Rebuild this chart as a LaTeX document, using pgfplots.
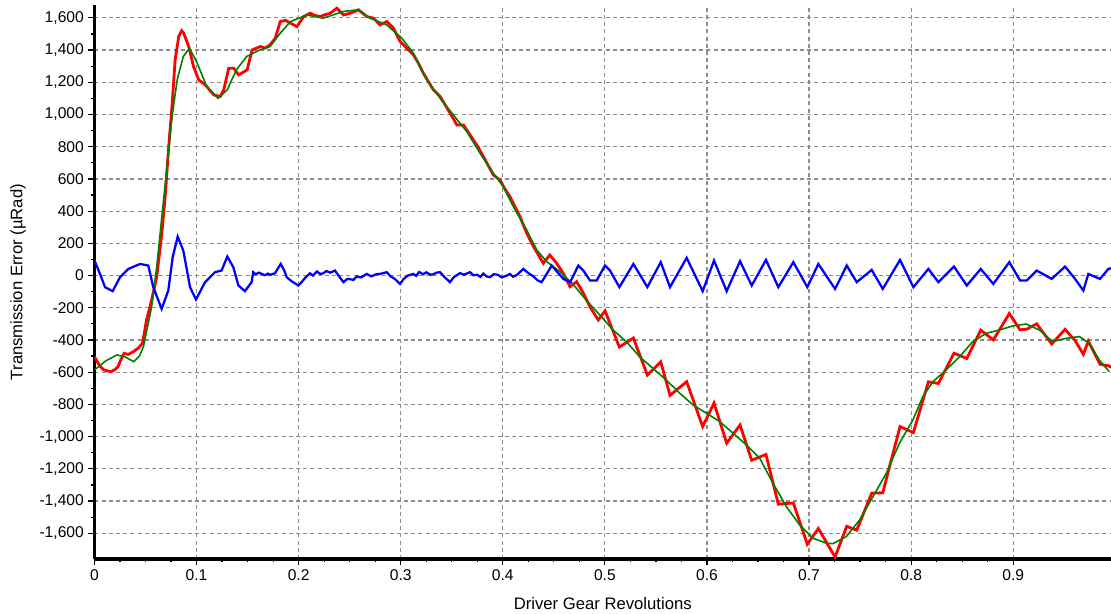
\documentclass[border=0pt]{standalone}
\usepackage{fontspec}
\setmainfont{Liberation Sans}
\usepackage{pgfplots}
\pgfplotsset{compat=1.18}
\definecolor{gridgray}{RGB}{140,140,140}
\definecolor{tered}{RGB}{255,0,0}
\definecolor{tegreen}{RGB}{0,128,0}
\definecolor{teblue}{RGB}{0,0,255}
\begin{document}
\begin{tikzpicture}
\begin{axis}[
  name=ax,
  scale only axis,
  width=762.4pt, height=415.5pt,
  xmin=0, xmax=0.9958,
  ymin=-1760, ymax=1680,
  axis lines=left,
  axis line style={-, line width=2.4pt, black},
  xtick={0,0.1,0.2,0.3,0.4,0.5,0.6,0.7,0.8,0.9},
  xticklabels={0,0.1,0.2,0.3,0.4,0.5,0.6,0.7,0.8,0.9},
  ytick={-1600,-1400,-1200,-1000,-800,-600,-400,-200,0,200,400,600,800,1000,1200,1400,1600},
  minor x tick num=3,
  minor y tick num=1,
  tick align=outside,
  major tick length=4.5pt,
  minor tick length=2.6pt,
  every tick/.style={black, line width=0.9pt},
  grid=major,
  major grid style={gridgray, line width=0.9pt, dash pattern=on 3pt off 2.4pt},
  /pgf/number format/assume math mode=true,
  /pgf/number format/1000 sep={,},
  tick label style={font=\fontsize{11.7}{14}\selectfont, black},
  label style={font=\fontsize{12.5}{15}\selectfont},
  xlabel={Driver Gear Revolutions},
  ylabel={Transmission Error (µRad)},
  xlabel style={at={(axis description cs:0.5,-0.0812)}, anchor=center},
  ylabel style={at={(axis description cs:-0.0753,0.5)}, anchor=center},
  clip=true,
]
% red: measured
\addplot[tered, line width=2.1pt] coordinates {
(0,-504) (0.005,-560) (0.009,-586) (0.013,-592) (0.016,-597) (0.02,-585) (0.023,-566) (0.026,-520) (0.029,-483) (0.033,-490) (0.038,-473) (0.043,-450) (0.047,-421)
(0.051,-276) (0.056,-152) (0.061,-7) (0.066,263) (0.0695,511) (0.0727,801) (0.0759,1049) (0.079,1339) (0.0825,1484) (0.0854,1520) (0.0874,1505)
(0.0923,1422) (0.097,1298) (0.1021,1215) (0.1086,1184) (0.1168,1122) (0.1233,1112) (0.1266,1153) (0.1315,1287) (0.1364,1287) (0.1413,1246)
(0.1495,1277) (0.1544,1401) (0.1626,1422) (0.167,1412) (0.172,1432) (0.177,1473) (0.182,1577) (0.187,1585) (0.192,1567) (0.1983,1546) (0.2048,1608) (0.2113,1629)
(0.216,1615) (0.221,1608) (0.226,1620) (0.231,1629) (0.2374,1660) (0.244,1618) (0.2505,1629) (0.2586,1650) (0.2668,1608) (0.2733,1598) (0.2798,1556) (0.2864,1577)
(0.2929,1536) (0.2994,1453) (0.306,1411) (0.3125,1370) (0.317,1322) (0.3222,1256) (0.327,1205) (0.332,1153) (0.3386,1112) (0.343,1065) (0.3484,1008) (0.355,935) (0.3614,935)
(0.3712,842) (0.376,795) (0.381,738) (0.386,680) (0.3907,625) (0.3973,593) (0.402,538) (0.407,490) (0.4168,366) (0.4234,263) (0.43,180) (0.4397,76) (0.446,128) (0.4528,76)
(0.4592,14) (0.4658,-69) (0.4723,-38) (0.479,-110) (0.4853,-193) (0.4935,-276)
(0.5001,-219) (0.5142,-444) (0.5279,-388) (0.5416,-618) (0.5547,-536) (0.5638,-744) (0.5801,-659) (0.5958,-938) (0.6069,-792)
(0.6193,-1041) (0.6324,-928) (0.6438,-1147) (0.6578,-1111) (0.6699,-1420) (0.6846,-1412) (0.6983,-1668) (0.7091,-1571) (0.7255,-1748)
(0.7369,-1557) (0.7467,-1581) (0.7614,-1351) (0.7722,-1349) (0.7891,-938) (0.8022,-975) (0.8169,-660) (0.8267,-670) (0.842,-482)
(0.8545,-515) (0.8682,-339) (0.8805,-400) (0.8962,-236) (0.9067,-337) (0.9132,-333) (0.923,-300) (0.9377,-425) (0.9508,-334)
(0.9606,-404) (0.9687,-489) (0.9736,-407) (0.985,-551) (0.9932,-560) (0.9958,-570)
};
% green: smoothed
\addplot[tegreen, line width=1.2pt] coordinates {
(0,-586) (0.011,-530) (0.022,-493) (0.030,-505) (0.0385,-535) (0.044,-500) (0.048,-441) (0.056,-193) (0.061,55) (0.066,366) (0.071,676) (0.076,987)
(0.081,1215) (0.087,1360) (0.093,1411) (0.100,1328) (0.110,1173) (0.121,1101) (0.130,1153) (0.139,1277) (0.149,1360)
(0.162,1401) (0.172,1422) (0.182,1505) (0.192,1577) (0.208,1618) (0.224,1598) (0.244,1640) (0.2586,1650) (0.270,1598)
(0.2864,1556) (0.301,1474) (0.3125,1380) (0.3255,1215) (0.3386,1101) (0.3516,997) (0.3647,894) (0.3777,759) (0.3907,635)
(0.4005,552) (0.4103,428) (0.4234,283) (0.4332,159) (0.443,86) (0.456,24) (0.469,-55) (0.482,-155) (0.495,-245)
(0.508,-338) (0.521,-410) (0.534,-504) (0.547,-576) (0.560,-648) (0.5734,-731) (0.5864,-804) (0.5995,-855) (0.6125,-907)
(0.6256,-979) (0.6386,-1052) (0.6517,-1135) (0.6647,-1290) (0.6778,-1435) (0.6908,-1549) (0.7039,-1631) (0.717,-1662)
(0.7234,-1665) (0.7365,-1621) (0.7495,-1518) (0.7626,-1373) (0.7756,-1228) (0.7886,-1041) (0.8017,-897) (0.8115,-752)
(0.8213,-659) (0.8343,-586) (0.8474,-504) (0.8604,-410) (0.8735,-359) (0.8865,-338) (0.8995,-313) (0.9126,-301)
(0.9256,-338) (0.9387,-410) (0.9517,-390) (0.9648,-379) (0.9746,-421) (0.9843,-524) (0.9941,-597)
};
% blue: difference
\addplot[teblue, line width=1.7pt] coordinates {
(0,93) (0.0054,10) (0.0103,-72) (0.0178,-97) (0.025,-10) (0.0331,41) (0.0446,72) (0.0527,62) (0.0576,-72) (0.0658,-207)
(0.0723,-93) (0.0766,114) (0.0815,242) (0.087,155) (0.0936,-72) (0.0994,-149) (0.1083,-41) (0.118,21) (0.1245,31) (0.1301,118)
(0.136,52) (0.141,-62) (0.1474,-97) (0.1539,-41) (0.1555,21) (0.158,8) (0.161,18) (0.164,10) (0.167,2) (0.170,12) (0.1719,4)
(0.1768,14) (0.1824,72) (0.186,30) (0.1883,-10) (0.193,-35) (0.1997,-62) (0.203,-40) (0.207,-10) (0.2111,14) (0.214,0) (0.218,25)
(0.221,10) (0.2242,14) (0.227,28) (0.231,18) (0.2356,31) (0.239,0) (0.2438,-41) (0.248,-20) (0.2536,-27) (0.257,-5) (0.2612,-12)
(0.2667,10) (0.271,-5) (0.276,8) (0.281,12) (0.2863,21) (0.290,-5) (0.294,-20) (0.2993,-52) (0.303,-20) (0.307,0) (0.3123,10)
(0.315,-2) (0.318,22) (0.322,8) (0.325,20) (0.329,5) (0.332,8) (0.335,18) (0.3385,21) (0.343,-10) (0.3482,-41) (0.352,-10)
(0.358,15) (0.362,5) (0.3679,21) (0.371,2) (0.375,5) (0.378,-8) (0.381,12) (0.384,-5) (0.3875,-10) (0.391,8) (0.395,5) (0.399,-12)
(0.4038,0) (0.407,10) (0.41,-8) (0.414,5) (0.4201,41) (0.425,15) (0.43,-5) (0.434,-30) (0.438,-41) (0.443,10)
(0.4479,62) (0.4593,-21) (0.4659,-41) (0.474,62) (0.4789,31) (0.4854,-31) (0.4919,-31) (0.5001,62) (0.505,31) (0.5142,-72)
(0.5279,72) (0.5416,-72) (0.5547,83) (0.5638,-72) (0.5801,110) (0.5958,-97) (0.6069,93) (0.6193,-97) (0.6324,89) (0.6438,-62)
(0.6578,97) (0.6699,-72) (0.6846,83) (0.6983,-72) (0.7091,72) (0.7255,-83) (0.7369,62) (0.7467,-41) (0.7614,35) (0.7722,-83)
(0.7891,97) (0.8022,-72) (0.8169,41) (0.8267,-41) (0.842,56) (0.8545,-62) (0.8682,41) (0.8805,-52) (0.8962,83) (0.9067,-31)
(0.9132,-31) (0.923,31) (0.9377,-21) (0.9508,56) (0.9606,-21) (0.9687,-93) (0.9736,10) (0.985,-21) (0.9932,41) (0.9958,45)
};
\end{axis}
\pgfresetboundingbox
\path ([xshift=-70.875pt,yshift=-41.25pt]ax.south west) rectangle ([yshift=3.75pt]ax.north east);
\end{tikzpicture}
\end{document}
